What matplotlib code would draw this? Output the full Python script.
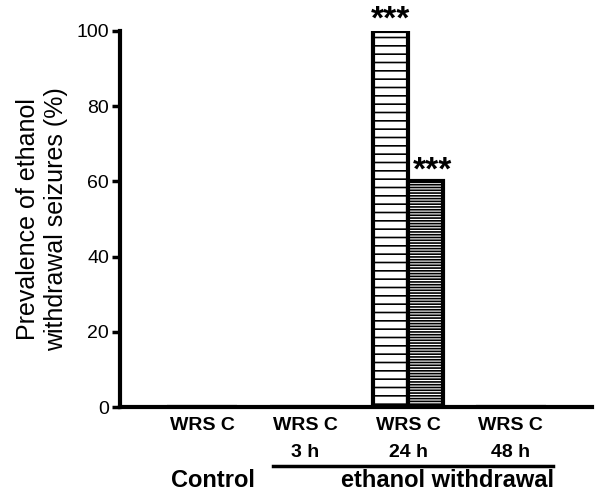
import matplotlib.pyplot as plt
import numpy as np

plt.rcParams['font.family'] = ['Liberation Sans', 'DejaVu Sans']
plt.rcParams['hatch.linewidth'] = 1.2

groups = ['WRS C', 'WRS C', 'WRS C', 'WRS C']
times = ['', '3 h', '24 h', '48 h']
wrs = [0, 0, 100, 0]
c = [0, 0, 60, 0]
stars_wrs = ['', '', '***', '']
stars_c = ['', '', '***', '']

x = np.arange(len(groups))
w = 0.34

fig = plt.figure(figsize=(6, 4.97), dpi=100)
ax = fig.add_axes([0.2, 0.181, 0.787, 0.757])

ax.bar(x - w / 2, wrs, width=w, color='white', edgecolor='black', linewidth=3, hatch='--')
ax.bar(x + w / 2, c, width=w, color='white', edgecolor='black', linewidth=3, hatch='------')

# asterisks: baseline just at bar top, glyphs sit high in the em box
for i in range(len(x)):
    if stars_wrs[i]:
        ax.text(x[i] - w / 2, wrs[i] + 0.5, stars_wrs[i], ha='center', va='baseline',
                fontsize=24, fontweight='bold', clip_on=False)
    if stars_c[i]:
        ax.text(x[i] + w / 2 + 0.07, c[i] + 0.5, stars_c[i], ha='center', va='baseline',
                fontsize=24, fontweight='bold', clip_on=False)

ax.set_xlim(-0.8, 3.79)
ax.set_ylim(0, 100)
ax.set_yticks([0, 20, 40, 60, 80, 100])
ax.tick_params(axis='y', length=6, width=2.5, labelsize=14, pad=2)
ax.set_xticks([])
for s in ['top', 'right']:
    ax.spines[s].set_visible(False)
ax.spines['left'].set_linewidth(3)
ax.spines['bottom'].set_linewidth(3)
ax.set_ylabel('Prevalence of ethanol\nwithdrawal seizures (%)', fontsize=18,
              linespacing=1.2, labelpad=6)

tr = ax.get_xaxis_transform()
for i in range(len(x)):
    ax.text(x[i], -0.048, groups[i], transform=tr, ha='center', va='center',
            fontsize=14, fontweight='bold')
    ax.text(x[i], -0.12, times[i], transform=tr, ha='center', va='center',
            fontsize=14, fontweight='bold')

ax.plot([0.69, 3.41], [-0.157, -0.157], transform=tr, color='black', lw=2.5, clip_on=False)
ax.text(0.1, -0.196, 'Control', transform=tr, ha='center', va='center',
        fontsize=17, fontweight='bold')
ax.text(2.38, -0.196, 'ethanol withdrawal', transform=tr, ha='center', va='center',
        fontsize=17, fontweight='bold')

fig.savefig('out.png', dpi=100)
